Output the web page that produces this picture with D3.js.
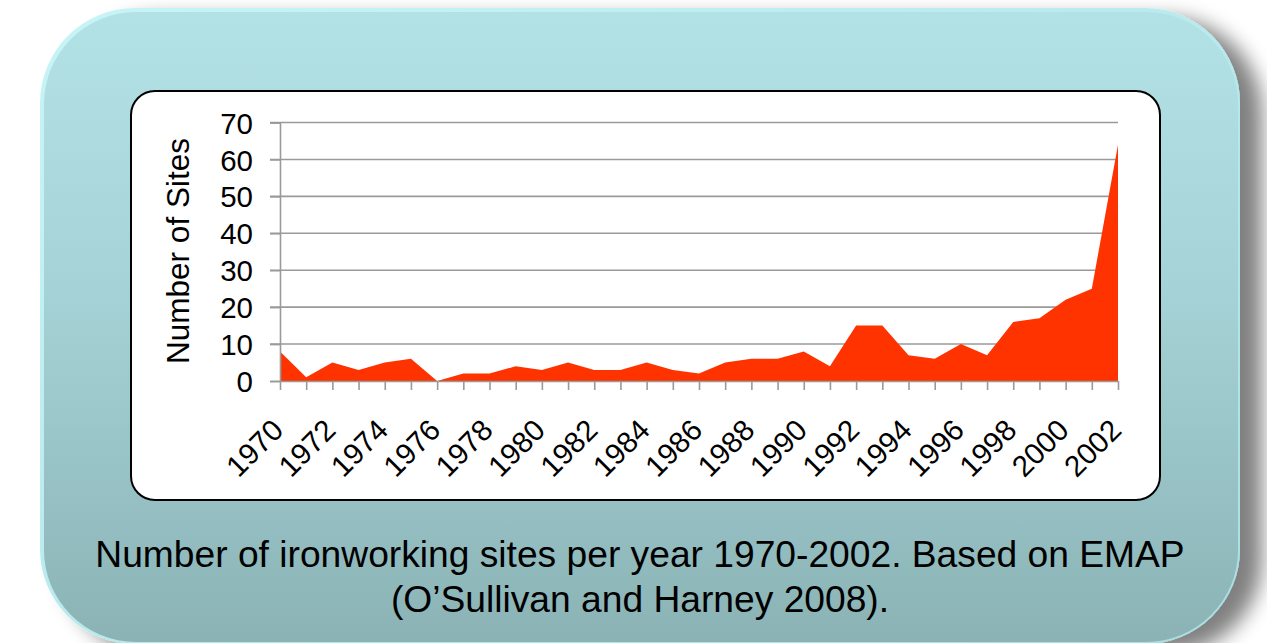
<!DOCTYPE html>
<html>
<head>
<meta charset="utf-8">
<script src="https://cdn.jsdelivr.net/npm/d3@7"></script>
<style>
  html, body { margin: 0; padding: 0; background: #ffffff; }
  svg { display: block; }
  text { font-family: "Liberation Sans", Arial, sans-serif; fill: #000; }
</style>
</head>
<body>
<svg id="chart" width="1267" height="643"></svg>
<script>
// ---- data ----
const years = d3.range(1970, 2003);
const sites = [8, 1, 5, 3, 5, 6, 0, 2, 2, 4, 3, 5, 3, 3, 5, 3, 2, 5, 6, 6, 8, 4, 15, 15, 7, 6, 10, 7, 16, 17, 22, 25, 64];
const yTicks = [0, 10, 20, 30, 40, 50, 60, 70];
const xLabelYears = years.filter(y => (y - 1970) % 2 === 0);
const yTitle = "Number of Sites";
const captionLines = ["Number of ironworking sites per year 1970-2002. Based on EMAP", "(O\u2019Sullivan and Harney 2008)."];

const svg = d3.select("#chart");
const defs = svg.append("defs");

// outer panel gradient
const g1 = defs.append("linearGradient").attr("id", "panelGrad").attr("x1", 0).attr("y1", 0).attr("x2", 0).attr("y2", 1);
g1.append("stop").attr("offset", "0%").attr("stop-color", "#b3e2e6");
g1.append("stop").attr("offset", "45%").attr("stop-color", "#a5d2d6");
g1.append("stop").attr("offset", "100%").attr("stop-color", "#8bb3b6");

const rim = defs.append("linearGradient").attr("id", "rimGrad").attr("x1", 0).attr("y1", 0).attr("x2", 1).attr("y2", 1);
rim.append("stop").attr("offset", "0%").attr("stop-color", "#c8f4f7");
rim.append("stop").attr("offset", "100%").attr("stop-color", "#a8dfe3");

const sh = defs.append("filter").attr("id", "shadow").attr("x", "-10%").attr("y", "-10%").attr("width", "130%").attr("height", "130%");
sh.append("feGaussianBlur").attr("in", "SourceAlpha").attr("stdDeviation", 10).attr("result", "b");
sh.append("feOffset").attr("in", "b").attr("dx", 22).attr("dy", 10).attr("result", "o");
sh.append("feComponentTransfer").attr("in", "o").attr("result", "o2")
  .append("feFuncA").attr("type", "linear").attr("slope", 0.5);
const m = sh.append("feMerge");
m.append("feMergeNode").attr("in", "o2");
m.append("feMergeNode").attr("in", "SourceGraphic");

// outer panel
svg.append("rect").attr("x", 40).attr("y", 8).attr("width", 1200).attr("height", 636)
  .attr("rx", 95).attr("ry", 95).attr("fill", "url(#rimGrad)").attr("filter", "url(#shadow)");
svg.append("rect").attr("x", 44).attr("y", 12).attr("width", 1194).attr("height", 630)
  .attr("rx", 92).attr("ry", 92).attr("fill", "url(#panelGrad)");

// inner white chart box
svg.append("rect").attr("x", 131).attr("y", 91).attr("width", 1029).attr("height", 409)
  .attr("rx", 24).attr("ry", 24).attr("fill", "#ffffff").attr("stroke", "#000").attr("stroke-width", 2);

// scales
const x = d3.scalePoint().domain(years).range([280, 1118]);
const y = d3.scaleLinear().domain([0, 70]).range([381, 122.5]);

const plot = svg.append("g");

// gridlines
plot.append("g").selectAll("line").data(yTicks.filter(d => d > 0)).join("line")
  .attr("x1", 270).attr("x2", 1118)
  .attr("y1", d => y(d)).attr("y2", d => y(d))
  .attr("stroke", "#9a9a9a").attr("stroke-width", 1.6);

// area
const area = d3.area().x((d, i) => x(years[i])).y0(y(0)).y1(d => y(d)).curve(d3.curveLinear);
plot.append("path").datum(sites).attr("d", area).attr("fill", "#ff3300");

// y axis
const yAxis = d3.axisLeft(y).tickValues(yTicks).tickSize(10).tickPadding(17);
const ya = plot.append("g").attr("transform", "translate(280,0)").call(yAxis);
ya.select(".domain").attr("stroke", "#9a9a9a").attr("stroke-width", 1.6);
ya.selectAll(".tick line").attr("stroke", "#9a9a9a").attr("stroke-width", 1.6);
ya.selectAll(".tick text").style("font-family", "'Liberation Sans', Arial, sans-serif").style("font-size", "29.5px").attr("fill", "#000").attr("dy", "0.36em");

// x axis
const xAxis = d3.axisBottom(x).tickSize(9).tickSizeOuter(0).tickFormat("");
const xa = plot.append("g").attr("transform", `translate(0,${y(0)})`).call(xAxis);
xa.select(".domain").attr("stroke", "#9a9a9a").attr("stroke-width", 1.6);
xa.selectAll(".tick line").attr("stroke", "#9a9a9a").attr("stroke-width", 1.6);

// x labels rotated
plot.append("g").selectAll("text").data(xLabelYears).join("text")
  .attr("transform", d => `translate(${x(d) + 5},${y(0) + 51}) rotate(-45)`)
  .attr("text-anchor", "end")
  .style("font-size", "29.5px")
  .text(d => d);

// y title
svg.append("text")
  .attr("transform", "translate(189,251) rotate(-90)")
  .attr("text-anchor", "middle")
  .style("font-size", "31.5px")
  .text(yTitle);

// caption
svg.append("g").selectAll("text").data(captionLines).join("text")
  .attr("x", 640).attr("y", (d, i) => 567 + i * 45)
  .attr("text-anchor", "middle")
  .style("font-size", "37.2px")
  .text(d => d);
</script>
</body>
</html>
